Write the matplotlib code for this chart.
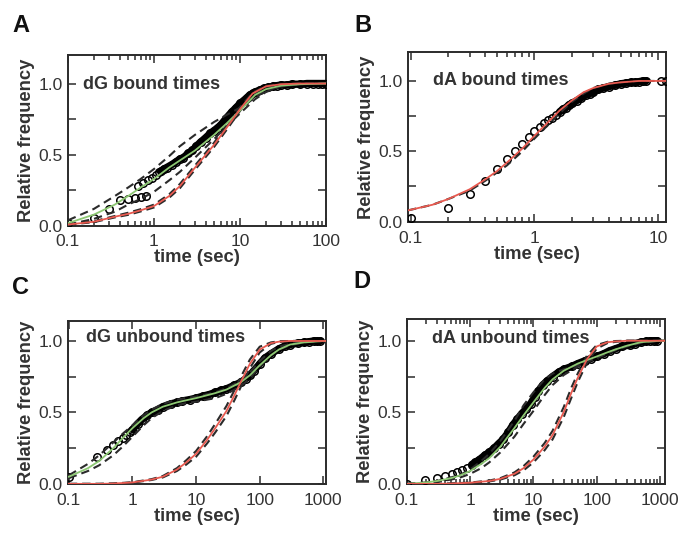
import matplotlib
matplotlib.use("Agg")
import matplotlib.pyplot as plt
from matplotlib.ticker import FixedLocator, NullFormatter, FixedFormatter, LogLocator

plt.rcParams['font.family'] = ['Liberation Sans', 'DejaVu Sans']

# ---------------- Panel A : dG bound times ----------------
A_fit_t = [0.1, 0.2, 0.35, 0.5, 0.7, 1, 1.5, 2, 3, 5, 7, 10, 15, 20, 30, 50, 100]
A_green = [0.02, 0.08, 0.15, 0.21, 0.27, 0.33, 0.41, 0.46, 0.53, 0.64, 0.72, 0.81, 0.92, 0.96, 0.985, 0.995, 1.0]
A_dash_hi = [0.04, 0.12, 0.21, 0.27, 0.33, 0.40, 0.49, 0.56, 0.64, 0.73, 0.78, 0.83, 0.90, 0.95, 0.98, 0.995, 1.0]
A_dash_lo = [0.01, 0.05, 0.10, 0.15, 0.19, 0.24, 0.32, 0.38, 0.48, 0.61, 0.70, 0.79, 0.89, 0.94, 0.98, 0.995, 1.0]
A_red_t = [0.1, 0.2, 0.35, 0.5, 0.7, 1, 1.5, 2, 3, 4, 5, 7, 10, 14, 20, 30, 50, 100]
A_red = [0.01, 0.03, 0.065, 0.085, 0.11, 0.14, 0.21, 0.28, 0.41, 0.50, 0.57, 0.69, 0.82, 0.93, 0.98, 0.995, 1.0, 1.0]
A_red_dash_l = [0.011, 0.033, 0.07, 0.093, 0.118, 0.15, 0.222, 0.295, 0.425, 0.515, 0.585, 0.705, 0.833, 0.935, 0.983, 0.996, 1.0, 1.0]
A_red_dash_r = [0.009, 0.027, 0.06, 0.078, 0.102, 0.13, 0.198, 0.265, 0.395, 0.485, 0.555, 0.675, 0.807, 0.925, 0.977, 0.994, 1.0, 1.0]
A_obs_t = [0.1, 0.2, 0.3, 0.4, 0.5, 0.6, 0.7, 0.8, 0.65, 0.75, 0.85, 0.95, 1.05, 1.15]
A_obs = [0.02, 0.058, 0.12, 0.185, 0.19, 0.195, 0.20, 0.21, 0.28, 0.30, 0.32, 0.34, 0.36, 0.38]
A_band_t = [1.2, 1.3, 1.4, 1.6, 1.8, 2.0, 2.2, 2.5, 2.8, 3.1, 3.5, 4, 4.5, 5, 5.5, 6, 7, 8, 9, 10,
            11, 12, 13, 14, 15, 17, 19, 21, 24, 27, 30, 35, 40, 50, 60, 70, 80, 90, 100]
A_band = [0.385, 0.40, 0.41, 0.43, 0.45, 0.47, 0.48, 0.51, 0.53, 0.56, 0.59, 0.62, 0.65, 0.67, 0.69, 0.71,
          0.76, 0.80, 0.83, 0.86, 0.88, 0.90, 0.92, 0.93, 0.94, 0.955, 0.965, 0.972, 0.98, 0.985, 0.99,
          0.99, 0.995, 0.995, 1.0, 1.0, 1.0, 1.0, 1.0]

# ---------------- Panel B : dA bound times ----------------
B_fit_t = [0.095, 0.15, 0.2, 0.3, 0.4, 0.5, 0.6, 0.8, 1.0, 1.3, 1.6, 2.0, 2.5, 3.0, 4.0, 5.0, 7.0, 10, 11.6]
B_red = [0.08, 0.12, 0.16, 0.23, 0.30, 0.36, 0.42, 0.52, 0.61, 0.71, 0.79, 0.86, 0.92, 0.95, 0.98, 0.99, 1.0, 1.0, 1.0]
B_dash = [0.08, 0.12, 0.16, 0.22, 0.29, 0.35, 0.40, 0.50, 0.59, 0.69, 0.77, 0.85, 0.91, 0.95, 0.98, 0.99, 1.0, 1.0, 1.0]
B_obs_t = [0.1, 0.2, 0.3, 0.4, 0.5, 0.6, 0.7, 0.8, 0.9, 1.0, 1.1, 1.2, 1.3, 1.4, 1.5]
B_obs = [0.024, 0.095, 0.195, 0.29, 0.375, 0.443, 0.505, 0.55, 0.605, 0.647, 0.67, 0.70, 0.72, 0.74, 0.76]
B_band_t = [1.6, 1.7, 1.8, 1.9, 2.0, 2.2, 2.4, 2.6, 2.8, 3.0, 3.3, 3.6, 4.0, 4.5, 5.0, 5.5, 6.0, 6.5, 7.0, 7.5, 8.0]
B_band = [0.78, 0.80, 0.81, 0.83, 0.84, 0.86, 0.88, 0.90, 0.91, 0.92, 0.94, 0.95, 0.96, 0.97, 0.98, 0.985,
          0.99, 0.99, 0.995, 1.0, 1.0]
B_tail_t = [10.5, 11.5]
B_tail = [1.0, 1.0]

# ---------------- Panel C : dG unbound times ----------------
C_fit_t = [0.1, 0.2, 0.3, 0.5, 0.7, 1, 1.5, 2, 3, 5, 7, 10, 20, 30, 50, 70, 100, 150, 200, 300, 500, 1000, 1100]
C_green = [0.05, 0.11, 0.16, 0.25, 0.32, 0.39, 0.46, 0.50, 0.54, 0.57, 0.585, 0.60, 0.635, 0.66, 0.71, 0.76,
           0.83, 0.90, 0.94, 0.975, 0.99, 1.0, 1.0]
C_dash_hi = [0.06, 0.14, 0.20, 0.29, 0.35, 0.41, 0.48, 0.52, 0.56, 0.59, 0.60, 0.61, 0.64, 0.67, 0.72, 0.78,
             0.86, 0.93, 0.96, 0.98, 0.995, 1.0, 1.0]
C_dash_lo = [0.04, 0.09, 0.13, 0.20, 0.26, 0.33, 0.41, 0.46, 0.51, 0.55, 0.565, 0.575, 0.60, 0.63, 0.68, 0.74,
             0.82, 0.90, 0.94, 0.97, 0.99, 1.0, 1.0]
C_red_t = [0.1, 0.3, 0.5, 1, 2, 3, 5, 7, 10, 15, 20, 30, 40, 50, 70, 100, 150, 200, 300, 500, 1000, 1100]
C_red = [0.0, 0.0, 0.002, 0.01, 0.03, 0.05, 0.10, 0.15, 0.21, 0.31, 0.39, 0.51, 0.62, 0.71, 0.84, 0.94,
         0.985, 0.995, 1.0, 1.0, 1.0, 1.0]
C_red_dash_l = [0.0, 0.0, 0.003, 0.011, 0.033, 0.055, 0.11, 0.165, 0.23, 0.335, 0.42, 0.545, 0.655, 0.745, 0.87,
                0.96, 0.99, 0.998, 1.0, 1.0, 1.0, 1.0]
C_red_dash_r = [0.0, 0.0, 0.001, 0.009, 0.027, 0.045, 0.09, 0.135, 0.19, 0.285, 0.36, 0.475, 0.585, 0.675, 0.81,
                0.92, 0.98, 0.993, 1.0, 1.0, 1.0, 1.0]
C_obs_t = [0.1, 0.28, 0.4, 0.5, 0.6, 0.7, 0.8, 0.9]
C_obs = [0.05, 0.19, 0.24, 0.27, 0.30, 0.32, 0.34, 0.36]
C_band_t = [1.0, 1.2, 1.4, 1.7, 2, 2.5, 3, 4, 5, 6, 8, 10, 13, 16, 20, 25, 30, 40, 50, 60, 70, 80, 100,
            120, 150, 200, 250, 300, 400, 500, 600, 700, 800, 900]
C_band = [0.38, 0.42, 0.45, 0.48, 0.50, 0.52, 0.54, 0.56, 0.57, 0.58, 0.59, 0.60, 0.615, 0.625, 0.64, 0.655,
          0.665, 0.69, 0.71, 0.735, 0.76, 0.79, 0.84, 0.88, 0.91, 0.945, 0.965, 0.975, 0.985, 0.99, 0.995,
          1.0, 1.0, 1.0]

# ---------------- Panel D : dA unbound times ----------------
D_fit_t = [0.1, 0.2, 0.3, 0.5, 0.7, 1, 1.5, 2, 3, 5, 7, 10, 15, 20, 30, 50, 70, 100, 150, 200, 300, 500, 1000, 1200]
D_green = [0.0, 0.01, 0.02, 0.04, 0.06, 0.09, 0.14, 0.18, 0.26, 0.39, 0.48, 0.57, 0.67, 0.73, 0.79, 0.84,
           0.865, 0.89, 0.92, 0.94, 0.965, 0.99, 1.0, 1.0]
D_dash_hi = [0.0, 0.01, 0.02, 0.045, 0.065, 0.10, 0.16, 0.21, 0.30, 0.44, 0.55, 0.64, 0.73, 0.77, 0.80, 0.83,
             0.855, 0.88, 0.91, 0.935, 0.96, 0.985, 1.0, 1.0]
D_dash_lo = [0.0, 0.005, 0.015, 0.03, 0.045, 0.07, 0.11, 0.15, 0.22, 0.33, 0.42, 0.51, 0.62, 0.69, 0.76, 0.82,
             0.85, 0.88, 0.915, 0.94, 0.965, 0.99, 1.0, 1.0]
D_red_t = [0.1, 0.3, 0.5, 1, 2, 3, 5, 7, 10, 15, 20, 30, 40, 50, 70, 100, 150, 200, 300, 1000, 1200]
D_red = [0.0, 0.0, 0.002, 0.008, 0.02, 0.035, 0.07, 0.11, 0.17, 0.26, 0.34, 0.50, 0.64, 0.74, 0.87, 0.96,
         0.99, 0.995, 1.0, 1.0, 1.0]
D_red_dash_l = [0.0, 0.0, 0.003, 0.009, 0.023, 0.04, 0.08, 0.125, 0.19, 0.285, 0.37, 0.535, 0.675, 0.77, 0.895,
                0.97, 0.993, 0.998, 1.0, 1.0, 1.0]
D_red_dash_r = [0.0, 0.0, 0.001, 0.007, 0.017, 0.03, 0.06, 0.095, 0.15, 0.235, 0.31, 0.465, 0.605, 0.71, 0.845,
                0.945, 0.985, 0.992, 1.0, 1.0, 1.0]
D_obs_t = [0.1, 0.195, 0.3, 0.4, 0.51, 0.62, 0.74, 0.89]
D_obs = [0.0, 0.03, 0.042, 0.058, 0.072, 0.081, 0.095, 0.11]
D_band_t = [1.06, 1.2, 1.4, 1.7, 2, 2.4, 2.8, 3.3, 4, 4.7, 5.5, 6.5, 7.5, 9, 10.5, 12, 14, 16.5, 20, 25, 30,
            40, 50, 65, 80, 100, 130, 160, 200, 250, 330, 400, 500, 600, 700, 800, 900]
D_band = [0.135, 0.15, 0.17, 0.20, 0.22, 0.25, 0.28, 0.31, 0.36, 0.41, 0.45, 0.49, 0.52, 0.56, 0.61, 0.65,
          0.69, 0.72, 0.75, 0.78, 0.80, 0.82, 0.84, 0.86, 0.875, 0.89, 0.91, 0.93, 0.945, 0.96, 0.97, 0.98,
          0.99, 0.995, 1.0, 1.0, 1.0]

titles = ["dG bound times", "dA bound times", "dG unbound times", "dA unbound times"]
letters = ["A", "B", "C", "D"]

GREEN = "#8dc873"
RED = "#e8594f"
DARK = "#2b2b2b"
TXT = "#333333"

fig = plt.figure(figsize=(6.8, 5.33), dpi=100)
axA = fig.add_axes([0.100, 0.576, 0.3794, 0.3208])
axB = fig.add_axes([0.600, 0.5826, 0.3794, 0.3199])
axC = fig.add_axes([0.100, 0.0914, 0.3794, 0.3064])
axD = fig.add_axes([0.5985, 0.0914, 0.3794, 0.3096])

dash = (0, (4, 2.4))


def draw_dash(ax, t, v):
    ax.plot(t, v, color=DARK, lw=1.5, ls=dash, zorder=4)


def draw_obs(ax, t, v):
    ax.plot(t, v, ls='none', marker='o', ms=5.4, mfc='none', mec='black', mew=1.1, zorder=3)


def draw_band(ax, t, v):
    ax.plot(t, v, color='black', lw=5.3, solid_capstyle='round', zorder=3)
    ax.plot(t, v, ls='none', marker='o', ms=5.4, mfc='none', mec='black', mew=1.1, zorder=3)


def style(ax, xlim, ylim, xticks, xlabels, title, tx, ty):
    ax.set_xscale('log')
    ax.set_xlim(*xlim)
    ax.set_ylim(*ylim)
    ax.xaxis.set_major_locator(FixedLocator(xticks))
    ax.xaxis.set_major_formatter(FixedFormatter(xlabels))
    ax.xaxis.set_minor_locator(LogLocator(base=10, subs=[2, 3, 4, 5, 6, 7, 8, 9]))
    ax.xaxis.set_minor_formatter(NullFormatter())
    ax.yaxis.set_major_locator(FixedLocator([0, 0.25, 0.5, 0.75, 1.0]))
    ax.yaxis.set_major_formatter(FixedFormatter(['0.0', '', '0.5', '', '1.0']))
    ax.tick_params(which='both', direction='in', top=True, right=True, colors=DARK,
                   labelcolor=TXT, labelsize=12.5, width=1.1)
    ax.tick_params(which='major', length=6)
    ax.tick_params(axis='x', which='major', pad=6)
    ax.tick_params(axis='y', which='major', pad=4)
    ax.tick_params(which='minor', length=3.5)
    for s in ax.spines.values():
        s.set_color(DARK)
        s.set_linewidth(1.4)
    ax.set_xlabel('time (sec)', fontsize=13.2, fontweight='bold', color=TXT, labelpad=0)
    ax.set_ylabel('Relative frequency', fontsize=13.2, fontweight='bold', color=TXT, labelpad=2)
    ax.text(tx, ty, title, transform=ax.transAxes, fontsize=13, fontweight='bold',
            color=TXT, ha='left', va='center')


# Panel A
draw_obs(axA, A_obs_t, A_obs)
draw_band(axA, A_band_t, A_band)
draw_dash(axA, A_fit_t, A_dash_hi)
draw_dash(axA, A_fit_t, A_dash_lo)
draw_dash(axA, A_red_t, A_red_dash_l)
draw_dash(axA, A_red_t, A_red_dash_r)
axA.plot(A_fit_t, A_green, color=GREEN, lw=1.3, zorder=5)
axA.plot(A_red_t, A_red, color=RED, lw=1.3, zorder=6)
style(axA, (0.1, 100), (0.0, 1.2), [0.1, 1, 10, 100], ['0.1', '1', '10', '100'],
      titles[0], 0.058, 0.83)

# Panel B
draw_obs(axB, B_obs_t, B_obs)
draw_band(axB, B_band_t, B_band)
draw_obs(axB, B_tail_t, B_tail)
draw_dash(axB, B_fit_t, B_dash)
axB.plot(B_fit_t, B_red, color=RED, lw=1.3, zorder=6)
style(axB, (0.095, 11.6), (-0.006, 1.206), [0.1, 1, 10], ['0.1', '1', '10'],
      titles[1], 0.097, 0.83)

# Panel C
draw_obs(axC, C_obs_t, C_obs)
draw_band(axC, C_band_t, C_band)
draw_dash(axC, C_fit_t, C_dash_hi)
draw_dash(axC, C_fit_t, C_dash_lo)
draw_dash(axC, C_red_t, C_red_dash_l)
draw_dash(axC, C_red_t, C_red_dash_r)
axC.plot(C_fit_t, C_green, color=GREEN, lw=1.3, zorder=5)
axC.plot(C_red_t, C_red, color=RED, lw=1.3, zorder=6)
style(axC, (0.097, 1100), (-0.003, 1.14), [0.1, 1, 10, 100, 1000], ['0.1', '1', '10', '100', '1000'],
      titles[2], 0.07, 0.898)

# Panel D
draw_obs(axD, D_obs_t, D_obs)
draw_band(axD, D_band_t, D_band)
draw_dash(axD, D_fit_t, D_dash_hi)
draw_dash(axD, D_fit_t, D_dash_lo)
draw_dash(axD, D_red_t, D_red_dash_l)
draw_dash(axD, D_red_t, D_red_dash_r)
axD.plot(D_fit_t, D_green, color=GREEN, lw=1.3, zorder=5)
axD.plot(D_red_t, D_red, color=RED, lw=1.3, zorder=6)
style(axD, (0.1, 1200), (-0.003, 1.15), [0.1, 1, 10, 100, 1000], ['0.1', '1', '10', '100', '1000'],
      titles[3], 0.096, 0.882)

# panel letters
fig.text(12 / 680, 1 - 26 / 533, letters[0], fontsize=17, fontweight='bold', color='#111111', va='center', ha='left')
fig.text(354 / 680, 1 - 26 / 533, letters[1], fontsize=17, fontweight='bold', color='#111111', va='center', ha='left')
fig.text(12 / 680, 1 - 287 / 533, letters[2], fontsize=17, fontweight='bold', color='#111111', va='center', ha='left')
fig.text(353 / 680, 1 - 281 / 533, letters[3], fontsize=17, fontweight='bold', color='#111111', va='center', ha='left')

fig.savefig('out.png', dpi=100, facecolor='white')
